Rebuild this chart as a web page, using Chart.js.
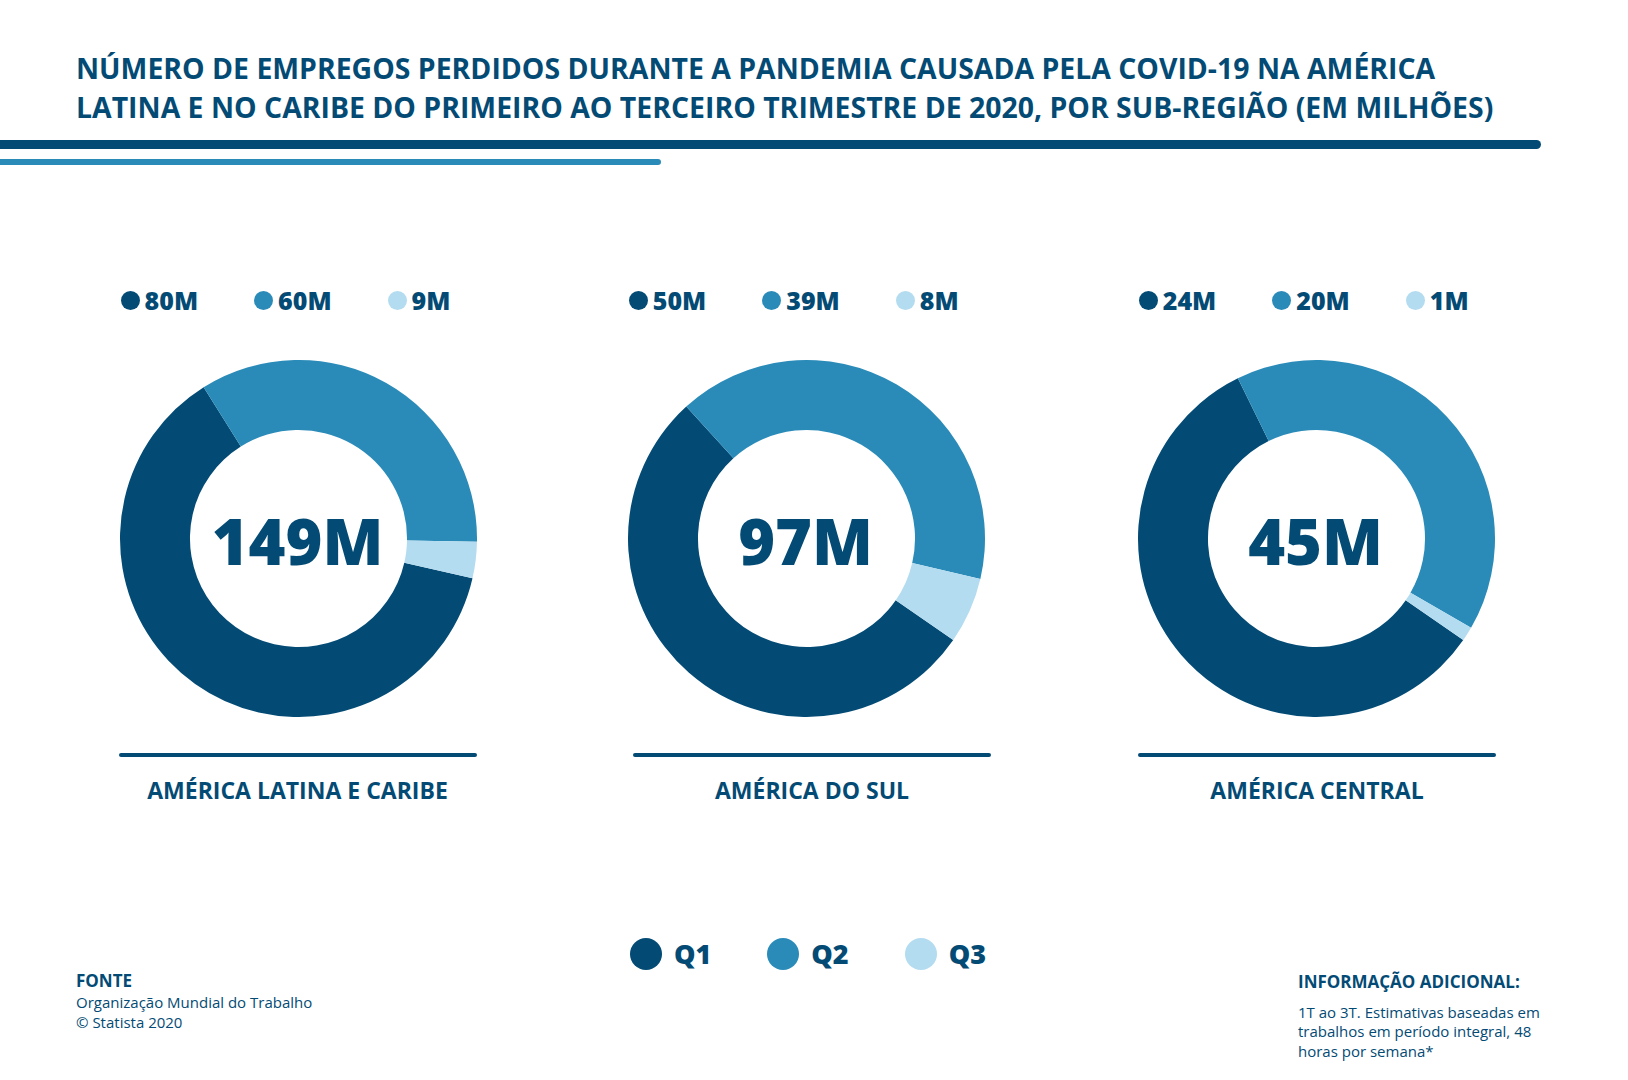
<!DOCTYPE html>
<html>
<head>
<meta charset="utf-8">
<script src="https://cdn.jsdelivr.net/npm/chart.js@4.4.0/dist/chart.umd.min.js"></script>
<style>
  html, body { margin: 0; padding: 0; background: #ffffff; }
  body { width: 1628px; height: 1080px; position: relative; overflow: hidden; font-family: "Open Sans", sans-serif; color: #034b75; }
  .abs { position: absolute; white-space: nowrap; }
  .title { font-size: 28px; line-height: 28px; font-weight: 700; left: 76px; transform-origin: 0 0; }
  .rule { position: absolute; left: 0; }
  .legend { position: absolute; display: flex; justify-content: center; gap: 56px; width: 420px; top: 288px; }
  .legend .item { display: flex; align-items: center; font-size: 25px; line-height: 25px; font-weight: 800; }
  .legend .dot { width: 19px; height: 19px; border-radius: 50%; margin-right: 5px; }
  .region { font-size: 23px; line-height: 23px; font-weight: 700; top: 779px; transform: translateX(-50%); }
  .base { position: absolute; height: 4px; border-radius: 2px; background: #034b75; top: 753px; width: 358px; }
  canvas { position: absolute; }
  #quarters { position: absolute; left: 630px; top: 938px; display: flex; gap: 56px; }
  #quarters .item { display: flex; align-items: center; font-size: 27px; line-height: 32px; font-weight: 800; }
  #quarters .dot { width: 32px; height: 32px; border-radius: 50%; margin-right: 12px; }
  .small { font-size: 15px; line-height: 15px; }
  .head { font-size: 17px; line-height: 17px; font-weight: 700; }
</style>
</head>
<body>
<div class="abs title" id="t1" style="top:54px">NÚMERO DE EMPREGOS PERDIDOS DURANTE A PANDEMIA CAUSADA PELA COVID-19 NA AMÉRICA</div>
<div class="abs title" id="t2" style="top:93px">LATINA E NO CARIBE DO PRIMEIRO AO TERCEIRO TRIMESTRE DE 2020, POR SUB-REGIÃO (EM MILHÕES)</div>
<div class="rule" style="top:140px;height:9px;width:1541px;background:#034b75;border-radius:0 5px 5px 0"></div>
<div class="rule" style="top:159px;height:6px;width:661px;background:#2a8bb9;border-radius:0 3px 3px 0"></div>

<div id="charts"></div>
<div id="quarters"></div>

<div class="abs head" style="left:76px;top:972px">FONTE</div>
<div class="abs small" style="left:76px;top:995px">Organização Mundial do Trabalho</div>
<div class="abs small" style="left:76px;top:1015px">© Statista 2020</div>

<div class="abs head" style="left:1298px;top:973px">INFORMAÇÃO ADICIONAL:</div>
<div class="abs small" style="left:1298px;top:1005px">1T ao 3T. Estimativas baseadas em</div>
<div class="abs small" style="left:1298px;top:1024px">trabalhos em período integral, 48</div>
<div class="abs small" style="left:1298px;top:1044px">horas por semana*</div>

<script>
// dados
const regions = ['AMÉRICA LATINA E CARIBE', 'AMÉRICA DO SUL', 'AMÉRICA CENTRAL'];
const quarters = ['Q1', 'Q2', 'Q3'];
const totalJobs = [149, 97, 45];
const q1Jobs = [80, 50, 24];
const q2Jobs = [60, 39, 20];
const q3Jobs = [9, 8, 1];
// fatias como aparecem nos anéis do original (% do anel), não batem exatamente com os rótulos
const ringQ1 = [62.5, 53.6, 58.1];
const ringQ2 = [34.2, 40.4, 40.6];
const ringQ3 = [3.3, 6.0, 1.3];

const colors = ['#034b75', '#2a8bb9', '#b3dcf0'];
const DARK = '#034b75';

// layout
const ringCenterX = [298.5, 806.7, 1316.7];
const ringCenterY = 538.5;
const ringRadius = 178.5;
const ringStart = [102.9, 124.7, 124.7];
const groupCenterX = [297.5, 812, 1317];

// ajusta largura do título (fonte condensada no original)
function fitTitle() {
  const t1 = document.getElementById('t1');
  const t2 = document.getElementById('t2');
  const s = 1359 / t1.scrollWidth;
  t1.style.transform = 'scaleX(' + s + ')';
  t2.style.transform = 'scaleX(' + s + ')';
}
fitTitle();

const centerText = {
  id: 'centerText',
  afterDraw(chart, args, opts) {
    const a = chart.chartArea;
    const ctx = chart.ctx;
    ctx.save();
    ctx.font = '800 63px "Open Sans"';
    ctx.fillStyle = DARK;
    ctx.textAlign = 'center';
    ctx.textBaseline = 'alphabetic';
    ctx.fillText(opts.text, (a.left + a.right) / 2 - 1, (a.top + a.bottom) / 2 + 26.5);
    ctx.restore();
  }
};

const holder = document.getElementById('charts');
const jobs = [q1Jobs, q2Jobs, q3Jobs];

regions.forEach((name, i) => {
  // legenda de cada anel
  const leg = document.createElement('div');
  leg.className = 'legend';
  leg.style.left = (ringCenterX[i] - 13 - 210) + 'px';
  quarters.forEach((q, k) => {
    const it = document.createElement('div');
    it.className = 'item';
    it.innerHTML = '<span class="dot" style="background:' + colors[k] + '"></span>' + jobs[k][i] + 'M';
    leg.appendChild(it);
  });
  holder.appendChild(leg);

  const cv = document.createElement('canvas');
  const size = ringRadius * 2;
  cv.width = size; cv.height = size;
  cv.style.width = size + 'px'; cv.style.height = size + 'px';
  cv.style.left = (ringCenterX[i] - ringRadius) + 'px';
  cv.style.top = (ringCenterY - ringRadius) + 'px';
  holder.appendChild(cv);

  new Chart(cv.getContext('2d'), {
    type: 'doughnut',
    data: {
      labels: quarters,
      datasets: [{
        data: [ringQ1[i], ringQ2[i], ringQ3[i]],
        backgroundColor: colors,
        borderWidth: 0,
        hoverOffset: 0,
        offset: 0
      }]
    },
    options: {
      responsive: false,
      animation: false,
      cutout: '60.8%',
      rotation: ringStart[i],
      layout: { padding: 0 },
      plugins: {
        legend: { display: false },
        tooltip: { enabled: false },
        centerText: { text: totalJobs[i] + 'M' }
      }
    },
    plugins: [centerText]
  });

  const base = document.createElement('div');
  base.className = 'base';
  base.style.left = (groupCenterX[i] - 179) + 'px';
  holder.appendChild(base);

  const lab = document.createElement('div');
  lab.className = 'abs region';
  lab.style.left = groupCenterX[i] + 'px';
  lab.textContent = name;
  holder.appendChild(lab);
});

// legenda inferior
const ql = document.getElementById('quarters');
quarters.forEach((q, k) => {
  const it = document.createElement('div');
  it.className = 'item';
  it.innerHTML = '<span class="dot" style="background:' + colors[k] + '"></span>' + q;
  ql.appendChild(it);
});
</script>
</body>
</html>
